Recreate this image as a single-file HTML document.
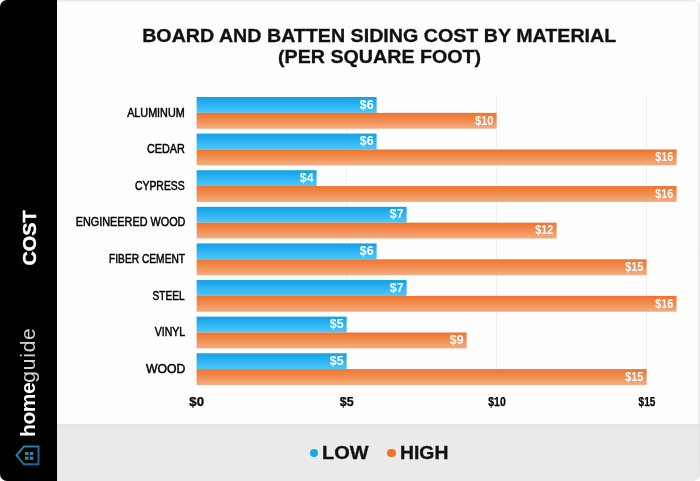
<!DOCTYPE html>
<html><head><meta charset="utf-8"><style>
*{margin:0;padding:0;box-sizing:border-box}
html,body{width:700px;height:481px;overflow:hidden;background:#fff;font-family:"Liberation Sans",sans-serif;-webkit-font-smoothing:antialiased}
.wrap{position:absolute;left:0;top:0;width:700px;height:481px;will-change:transform}
.card{position:absolute;left:0;top:0;width:700px;height:481px;border-radius:7px;background:linear-gradient(to bottom,#e4e4e4 0,rgba(254,254,254,0) 2.6px),linear-gradient(to right,rgba(254,254,254,0) 696.6px,#e6e6e6 700px),#fefefe}
.band{position:absolute;left:57px;top:424px;width:643px;height:57px;background:linear-gradient(to right,rgba(233,233,233,0) 639.6px,#e2e2e2 643px),linear-gradient(#e6e6e6 0,#e8e8e8 4px,#ebebeb 9px,#eaeaea 100%);border-radius:0 0 7px 0}
.side{position:absolute;left:0;top:0;width:57px;height:481px;background:#000;border-radius:7px 0 0 7px}
.title{position:absolute;left:79.4px;width:600px;text-align:center;font-weight:bold;font-size:18.5px;color:#111;line-height:21.4px;top:24.9px;-webkit-text-stroke:0.3px #111}
.title span{display:inline-block;transform:scaleX(1.062);white-space:nowrap}
.grid{position:absolute;top:95px;width:1px;height:290px;background:#efefef}
.lbl{position:absolute;right:515px;font-weight:normal;font-size:12.5px;color:#000;-webkit-text-stroke:0.5px #000;line-height:20px;white-space:nowrap}
.lbl span{display:inline-block;transform-origin:100% 50%}
.bar{position:absolute;left:197px;height:16px}
.lo{}
.hi{}
.bar span{position:absolute;right:3.6px;top:-0.5px;line-height:16px;font-size:12.2px;font-weight:bold;color:#fff;transform:scaleX(0.88);transform-origin:100% 50%}
.tick{position:absolute;top:393.9px;width:40px;text-align:center;font-size:12px;font-weight:bold;color:#000;line-height:16px;-webkit-text-stroke:0.25px #000}
.cost{position:absolute;left:29.6px;top:238.3px;-webkit-text-stroke:0.4px #fff;transform:translate(-50%,-50%) rotate(-90deg) scaleX(1.055);color:#fff;font-weight:bold;font-size:18.8px;white-space:nowrap}
.hg{position:absolute;left:0;top:0;width:120px;height:30px;transform-origin:0 0;color:#fff;font-size:21px;white-space:nowrap;line-height:30px}
.hg b{font-weight:bold;color:#fff}
.hg{color:#d4d4d4}
.dot{position:absolute;width:8.5px;height:8.5px;border-radius:50%}
.lt{position:absolute;top:443px;font-weight:bold;font-size:17.5px;color:#111;-webkit-text-stroke:0.3px #111;line-height:20px;transform-origin:0 50%}
</style></head><body><div class="wrap">
<div class="card"></div>
<div class="band"></div>
<div class="side"></div>
<div class="cost">COST</div>
<div class="hg" style="transform:translate(12.9px,437px) rotate(-90deg)"><b style="letter-spacing:-0.45px">home</b><span style="letter-spacing:0.8px">guide</span></div>
<svg style="position:absolute;left:14px;top:444px" width="28" height="24" viewBox="0 0 28 24">
<defs><linearGradient id="hs" x1="0" y1="0" x2="1" y2="1"><stop offset="0" stop-color="#2a8ea3"/><stop offset="1" stop-color="#1f62a0"/></linearGradient></defs><path d="M2.5 11.3 L10 2.5 L24.5 2.5 L24.5 20.3 L10 20.3 Z" fill="none" stroke="url(#hs)" stroke-width="1.9" stroke-linejoin="miter"/>
<rect x="11" y="8" width="3.6" height="3.2" fill="#2a8a86"/><rect x="15.8" y="8" width="3.4" height="3.2" fill="#3a7aa8"/>
<rect x="11" y="12.6" width="3.6" height="3.2" fill="#2a8a86"/><rect x="15.8" y="12.6" width="3.4" height="3.2" fill="#3a7aa8"/>
</svg>
<div class="title"><span>BOARD AND BATTEN SIDING COST BY MATERIAL</span><br><span>(PER SQUARE FOOT)</span></div>
<div class="grid" style="left:346px"></div><div class="grid" style="left:496px"></div><div class="grid" style="left:646px"></div>
<svg style="position:absolute;left:0;top:0" width="700" height="481" viewBox="0 0 700 481"><defs><linearGradient id="gl" x1="0" y1="0" x2="0" y2="1"><stop offset="0" stop-color="#1b9ddc"/><stop offset="0.12" stop-color="#17a5ec"/><stop offset="0.5" stop-color="#30b4f3"/><stop offset="0.85" stop-color="#42c3f8"/><stop offset="1" stop-color="#4fc7f0"/></linearGradient><linearGradient id="gh" x1="0" y1="0" x2="0" y2="1"><stop offset="0" stop-color="#f2702f"/><stop offset="0.2" stop-color="#f17e3a"/><stop offset="0.5" stop-color="#ef8f52"/><stop offset="0.8" stop-color="#f3a26e"/><stop offset="1" stop-color="#f3ab82"/></linearGradient></defs><rect x="196.6" y="97.00" width="180" height="15.85" fill="url(#gl)"/><rect x="196.6" y="112.85" width="300" height="15.85" fill="url(#gh)"/><rect x="196.6" y="133.61" width="180" height="15.85" fill="url(#gl)"/><rect x="196.6" y="149.46" width="480" height="15.85" fill="url(#gh)"/><rect x="196.6" y="170.22" width="120" height="15.85" fill="url(#gl)"/><rect x="196.6" y="186.07" width="480" height="15.85" fill="url(#gh)"/><rect x="196.6" y="206.83" width="210" height="15.85" fill="url(#gl)"/><rect x="196.6" y="222.68" width="360" height="15.85" fill="url(#gh)"/><rect x="196.6" y="243.44" width="180" height="15.85" fill="url(#gl)"/><rect x="196.6" y="259.29" width="450" height="15.85" fill="url(#gh)"/><rect x="196.6" y="280.05" width="210" height="15.85" fill="url(#gl)"/><rect x="196.6" y="295.90" width="480" height="15.85" fill="url(#gh)"/><rect x="196.6" y="316.66" width="150" height="15.85" fill="url(#gl)"/><rect x="196.6" y="332.51" width="270" height="15.85" fill="url(#gh)"/><rect x="196.6" y="353.27" width="150" height="15.85" fill="url(#gl)"/><rect x="196.6" y="369.12" width="450" height="15.85" fill="url(#gh)"/></svg>
<div class="lbl" style="top:102.60px"><span style="transform:scaleX(0.8627)">ALUMINUM</span></div><div class="bar lo" style="top:97.00px;width:180px"><span style="transform:scaleX(1.02);right:3.7px">$6</span></div><div class="bar hi" style="top:113.00px;width:300px"><span style="transform:scaleX(0.89);right:3.5px">$10</span></div><div class="lbl" style="top:139.22px"><span style="transform:scaleX(0.8651)">CEDAR</span></div><div class="bar lo" style="top:133.62px;width:180px"><span style="transform:scaleX(1.02);right:3.7px">$6</span></div><div class="bar hi" style="top:149.62px;width:480px"><span style="transform:scaleX(0.89);right:3.5px">$16</span></div><div class="lbl" style="top:175.84px"><span style="transform:scaleX(0.8339)">CYPRESS</span></div><div class="bar lo" style="top:170.24px;width:120px"><span style="transform:scaleX(1.02);right:3.7px">$4</span></div><div class="bar hi" style="top:186.24px;width:480px"><span style="transform:scaleX(0.89);right:3.5px">$16</span></div><div class="lbl" style="top:212.46px"><span style="transform:scaleX(0.8672)">ENGINEERED WOOD</span></div><div class="bar lo" style="top:206.86px;width:210px"><span style="transform:scaleX(1.02);right:3.7px">$7</span></div><div class="bar hi" style="top:222.86px;width:360px"><span style="transform:scaleX(0.89);right:3.5px">$12</span></div><div class="lbl" style="top:249.08px"><span style="transform:scaleX(0.8172)">FIBER CEMENT</span></div><div class="bar lo" style="top:243.48px;width:180px"><span style="transform:scaleX(1.02);right:3.7px">$6</span></div><div class="bar hi" style="top:259.48px;width:450px"><span style="transform:scaleX(0.89);right:3.5px">$15</span></div><div class="lbl" style="top:285.70px"><span style="transform:scaleX(0.8103)">STEEL</span></div><div class="bar lo" style="top:280.10px;width:210px"><span style="transform:scaleX(1.02);right:3.7px">$7</span></div><div class="bar hi" style="top:296.10px;width:480px"><span style="transform:scaleX(0.89);right:3.5px">$16</span></div><div class="lbl" style="top:322.32px"><span style="transform:scaleX(0.8432)">VINYL</span></div><div class="bar lo" style="top:316.72px;width:150px"><span style="transform:scaleX(1.02);right:3.7px">$5</span></div><div class="bar hi" style="top:332.72px;width:270px"><span style="transform:scaleX(1.02);right:3.7px">$9</span></div><div class="lbl" style="top:358.94px"><span style="transform:scaleX(0.9769)">WOOD</span></div><div class="bar lo" style="top:353.34px;width:150px"><span style="transform:scaleX(1.02);right:3.7px">$5</span></div><div class="bar hi" style="top:369.34px;width:450px"><span style="transform:scaleX(0.89);right:3.5px">$15</span></div>
<div class="tick" style="left:177px"><span style="display:inline-block;transform:scaleX(1.1)">$0</span></div><div class="tick" style="left:327px"><span style="display:inline-block;transform:scaleX(1.04)">$5</span></div><div class="tick" style="left:477px"><span style="display:inline-block;transform:scaleX(0.87)">$10</span></div><div class="tick" style="left:627px"><span style="display:inline-block;transform:scaleX(0.84)">$15</span></div>
<div class="dot" style="left:309.6px;top:448.7px;background:#17a9e1"></div><div class="lt" style="left:321.6px;transform:scaleX(1.14)">LOW</div>
<div class="dot" style="left:387px;top:448.7px;background:#ef7526"></div><div class="lt" style="left:399.5px;transform:scaleX(1.105)">HIGH</div>
</div></body></html>
